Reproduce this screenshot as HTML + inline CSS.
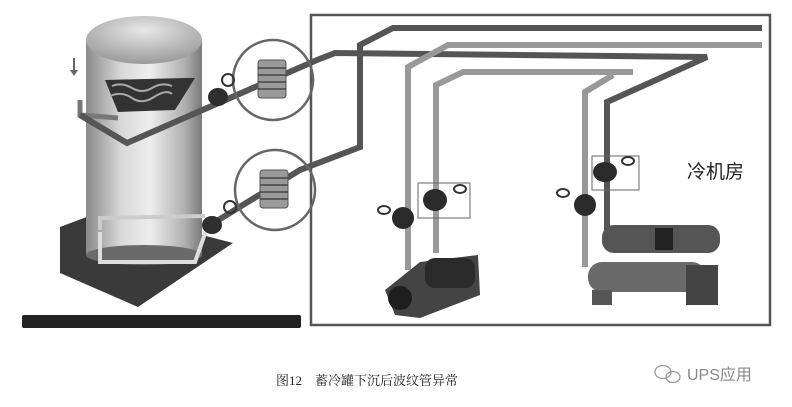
<!DOCTYPE html>
<html><head><meta charset="utf-8"><style>
html,body{margin:0;padding:0;background:#fff;}
body{width:792px;height:407px;overflow:hidden;position:relative;}
svg{position:absolute;left:0;top:0;}
</style></head><body>
<svg width="792" height="407" viewBox="0 0 792 407" xmlns="http://www.w3.org/2000/svg">
<defs>
<linearGradient id="tk" x1="0" x2="1" y1="0" y2="0">
<stop offset="0" stop-color="#8a8a8a"/><stop offset="0.3" stop-color="#d8d8d8"/><stop offset="0.55" stop-color="#eeeeee"/><stop offset="0.85" stop-color="#b0b0b0"/><stop offset="1" stop-color="#7a7a7a"/>
</linearGradient>
<radialGradient id="top" cx="0.5" cy="0.3" r="0.7"><stop offset="0" stop-color="#e8e8e8"/><stop offset="1" stop-color="#9a9a9a"/></radialGradient>
</defs>
<!-- base plate -->
<polygon points="60,227 105,210 233,243 138,307 60,273" fill="#3a3a3a"/>
<!-- tank -->
<rect x="86" y="40" width="116" height="215" fill="url(#tk)"/>
<ellipse cx="144" cy="255" rx="58" ry="10" fill="#6a6a6a"/>
<ellipse cx="144" cy="40" rx="58" ry="24" fill="url(#top)"/>
<path d="M105,80 L185,78 L195,78 L175,110 L118,112 Z" fill="#333"/>
<path d="M112,86 q10,-4 20,2 t20,0 t20,-2 M110,96 q12,-5 22,2 t22,-1 t18,-3" stroke="#aaa" stroke-width="2" fill="none"/>
<path d="M100,230 L100,218 L205,216" stroke="#ccc" stroke-width="4" fill="none"/>
<path d="M100,232 L100,262 L195,262 L207,228" stroke="#ddd" stroke-width="4" fill="none"/>
<!-- arrow -->
<line x1="74" y1="58" x2="74" y2="72" stroke="#666" stroke-width="2"/><polygon points="70,70 78,70 74,76" fill="#666"/>
<path d="M80,100 L80,115 L118,118" stroke="#777" stroke-width="5" fill="none"/>
<!-- pipes -->
<g fill="none" stroke-linejoin="miter">
<polyline points="80,115 127,143 317,60 335,53 707,57 607,102 607,240" stroke="#555" stroke-width="6"/>
<polyline points="207,227 300,170 360,147 360,45 393,28 762,28" stroke="#555" stroke-width="6"/>
<polyline points="762,45 448,45 408,67 408,270" stroke="#999" stroke-width="6"/>
<polyline points="633,72 463,72 436,85 436,253" stroke="#999" stroke-width="6"/>
<polyline points="613,75 585,92 585,267" stroke="#999" stroke-width="6"/>
</g>
<!-- frame -->
<rect x="311" y="15" width="459" height="310" fill="none" stroke="#555" stroke-width="2.5"/>
<!-- circles with bellows -->
<g stroke="#666" stroke-width="2.5" fill="none">
<circle cx="273" cy="80" r="40"/><circle cx="275" cy="190" r="40"/>
</g>
<g fill="#9a9a9a" stroke="#555" stroke-width="1">
<rect x="258" y="60" width="28" height="38" rx="3"/><rect x="260" y="170" width="28" height="38" rx="3"/>
</g>
<g stroke="#444" stroke-width="1.5">
<line x1="258" y1="68" x2="286" y2="68"/><line x1="258" y1="75" x2="286" y2="75"/><line x1="258" y1="82" x2="286" y2="82"/><line x1="258" y1="89" x2="286" y2="89"/>
<line x1="260" y1="178" x2="288" y2="178"/><line x1="260" y1="185" x2="288" y2="185"/><line x1="260" y1="192" x2="288" y2="192"/><line x1="260" y1="199" x2="288" y2="199"/>
</g>
<!-- valves near tank -->
<g fill="#2e2e2e">
<ellipse cx="218" cy="97" rx="10" ry="9"/><circle cx="228" cy="80" r="6" fill="none" stroke="#333" stroke-width="2"/>
<ellipse cx="212" cy="225" rx="10" ry="9"/><circle cx="230" cy="207" r="6" fill="none" stroke="#333" stroke-width="2"/>
</g>
<!-- valve boxes -->
<rect x="418" y="183" width="52" height="35" fill="none" stroke="#666" stroke-width="1"/>
<rect x="592" y="156" width="47" height="34" fill="none" stroke="#666" stroke-width="1"/>
<g fill="#2a2a2a">
<ellipse cx="435" cy="200" rx="12" ry="11"/><ellipse cx="403" cy="218" rx="11" ry="11"/>
<ellipse cx="605" cy="172" rx="12" ry="10"/><ellipse cx="585" cy="205" rx="11" ry="11"/>
</g>
<g fill="none" stroke="#333" stroke-width="2">
<ellipse cx="460" cy="189" rx="6" ry="4"/><ellipse cx="384" cy="210" rx="6" ry="4"/>
<ellipse cx="628" cy="161" rx="6" ry="4"/><ellipse cx="563" cy="193" rx="6" ry="4"/>
</g>
<!-- pump -->
<g>
<polygon points="385,290 420,262 478,255 480,295 420,318 395,315" fill="#444"/>
<rect x="425" y="258" width="50" height="30" rx="10" fill="#2a2a2a"/>
<circle cx="400" cy="298" r="12" fill="#1e1e1e"/>
</g>
<!-- chiller -->
<g>
<rect x="602" y="225" width="118" height="28" rx="12" fill="#555"/>
<rect x="588" y="262" width="118" height="30" rx="14" fill="#6a6a6a"/>
<rect x="655" y="228" width="18" height="22" fill="#222"/>
<rect x="686" y="265" width="32" height="40" fill="#444"/>
<rect x="592" y="290" width="20" height="15" fill="#555"/>
</g>
<text x="687" y="178" font-family="'Liberation Sans','Noto Sans CJK SC',sans-serif" font-size="19" fill="#222">冷机房</text>
<!-- black bar -->
<rect x="22" y="315" width="279" height="13" rx="2" fill="#232323"/>
<!-- caption -->
<text x="276" y="385" font-family="'Liberation Serif','Noto Serif CJK SC',serif" font-size="13" fill="#222">图12　蓄冷罐下沉后波纹管异常</text>
<g fill="none" stroke="#999" stroke-width="1.3">
<ellipse cx="663" cy="372" rx="8" ry="6.5"/><ellipse cx="673" cy="377" rx="7" ry="5.5"/>
</g>
<text x="687" y="380" font-family="'Liberation Sans','Noto Sans CJK SC',sans-serif" font-size="16" fill="#888">UPS应用</text>
</svg>
</body></html>
